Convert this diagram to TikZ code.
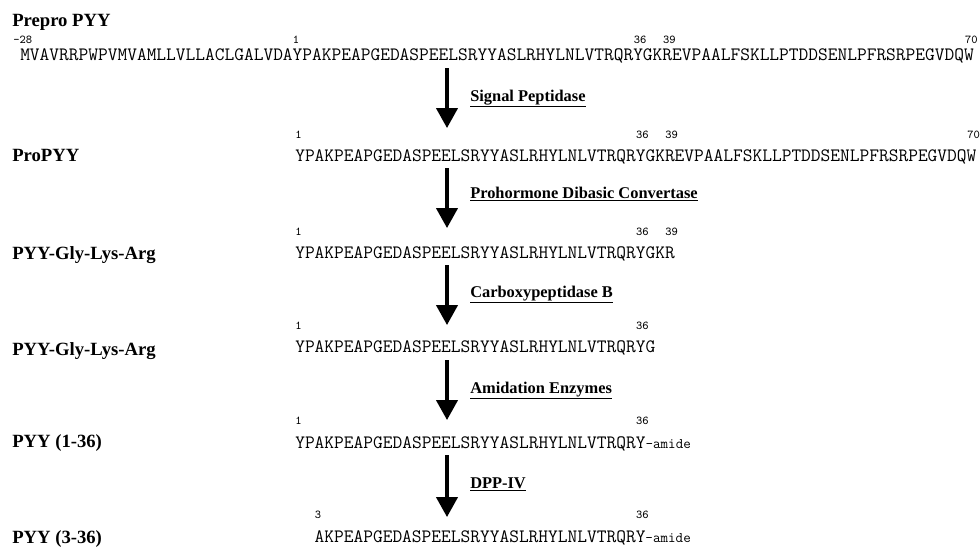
\documentclass[tikz,border=0pt]{standalone}
\usepackage{fontspec}
\setmainfont{Liberation Serif}
\usetikzlibrary{arrows.meta, positioning}
\tikzset{
  every picture/.style={x=0.75pt, y=-0.75pt},
  form/.style={font=\bfseries\fontsize{14}{16}\selectfont, anchor=base west, inner sep=0pt},
  seq/.style={font=\ttfamily\fontsize{14.17}{16}\selectfont, anchor=base west, inner sep=0pt},
  resnum/.style={font=\ttfamily\fontsize{9}{10}\selectfont, anchor=base west, inner sep=0pt},
  enzyme/.style={font=\bfseries\fontsize{12.3}{14}\selectfont, anchor=base west, inner sep=0pt},
  cut/.style={-{Triangle[width=16pt, length=15pt]}, line width=2.4pt},
}
\newcommand{\amide}{{\fontsize{11}{12}\selectfont -amide}}

\begin{document}
\begin{tikzpicture}
  \useasboundingbox (0,0) rectangle (980,547);
  % forms of the peptide
  \node[form] (prepro) at (12,26) {Prepro PYY};
  \node[form] (pro) at (12,161) {ProPYY};
  \node[form] (gkr) at (12,259) {PYY-Gly-Lys-Arg};
  \node[form] (gly) at (12,355) {PYY-Gly-Lys-Arg};
  \node[form] (full) at (12,447) {PYY (1-36)};
  \node[form] (short) at (12,543) {PYY (3-36)};
  % sequences
  \node[seq] (s1) at (20,60) {MVAVRRPWPVMVAMLLVLLACLGALVDAYPAKPEAPGEDASPEELSRYYASLRHYLNLVTRQRYGKREVPAALFSKLLPTDDSENLPFRSRPEGVDQW};
  \node[seq] (s2) at (295,161) {YPAKPEAPGEDASPEELSRYYASLRHYLNLVTRQRYGKREVPAALFSKLLPTDDSENLPFRSRPEGVDQW};
  \node[seq] (s3) at (295,258) {YPAKPEAPGEDASPEELSRYYASLRHYLNLVTRQRYGKR};
  \node[seq] (s4) at (295,352) {YPAKPEAPGEDASPEELSRYYASLRHYLNLVTRQRYG};
  \node[seq] (s5) at (295,448) {YPAKPEAPGEDASPEELSRYYASLRHYLNLVTRQRY\amide};
  \node[seq] (s6) at (314.4,542) {AKPEAPGEDASPEELSRYYASLRHYLNLVTRQRY\amide};
  % residue numbers
  \node[resnum] (n1-0) at (13,43) {-28};
  \foreach \r in {1,36,39,70} \node[resnum] (n1-\r) at ({20+(27+\r)*9.74},43) {\r};
  \foreach \r in {1,36,39,70} \node[resnum] (n2-\r) at ({295+(\r-1)*9.74},138) {\r};
  \foreach \r in {1,36,39} \node[resnum] (n3-\r) at ({295+(\r-1)*9.74},235) {\r};
  \foreach \r in {1,36} \node[resnum] (n4-\r) at ({295+(\r-1)*9.74},329) {\r};
  \foreach \r in {1,36} \node[resnum] (n5-\r) at ({295+(\r-1)*9.74},424) {\r};
  \foreach \r in {3,36} \node[resnum] (n6-\r) at ({295+(\r-1)*9.74},518) {\r};
  % processing steps
  \foreach \i/\ya/\yb/\yl/\name in {1/68/128/101/Signal Peptidase,
      2/168/228/198/Prohormone Dibasic Convertase, 3/265/325/297/Carboxypeptidase B,
      4/360/420/393/Amidation Enzymes, 5/455/517/488/DPP-IV} {
    \coordinate (top\i) at (447,\ya);
    \coordinate (tip\i) at (447,\yb);
    \draw[cut] (top\i) -- (tip\i);
    \node[enzyme] (enz\i) at (470,\yl) {\underline{\name}};
  }
\end{tikzpicture}
\end{document}
